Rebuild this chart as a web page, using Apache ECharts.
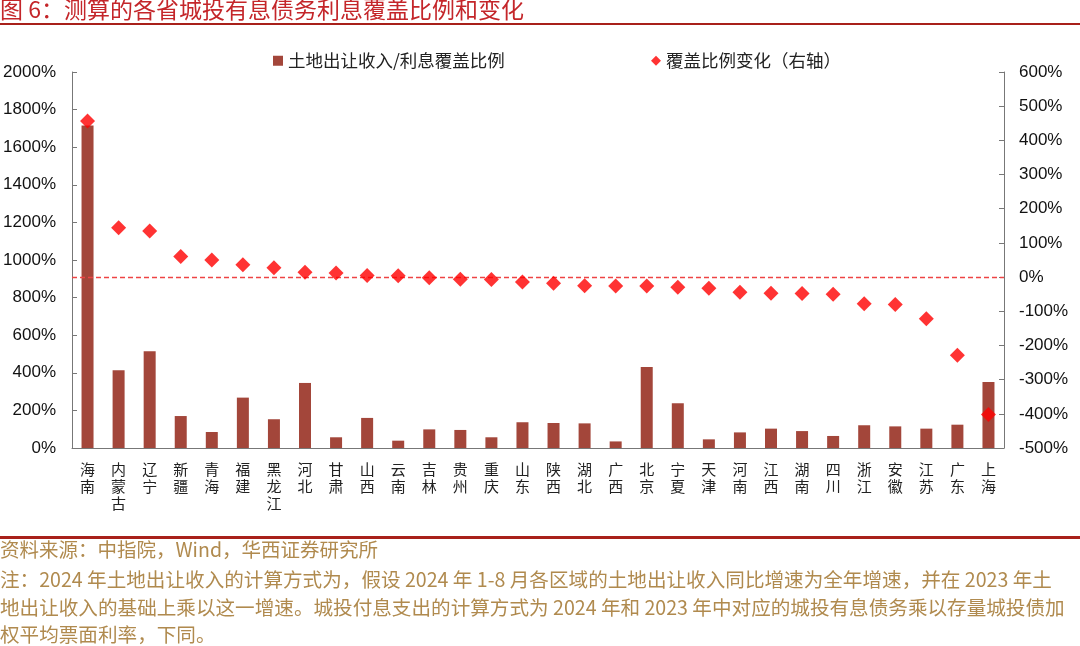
<!DOCTYPE html>
<html>
<head>
<meta charset="utf-8">
<script src="https://cdn.jsdelivr.net/npm/echarts@6/dist/echarts.min.js"></script>
<style>
html,body{margin:0;padding:0;background:#fff;}
#c{width:1080px;height:646px;}
</style>
</head>
<body>
<div id="c"></div>
<script>
const categories = ['海南','内蒙古','辽宁','新疆','青海','福建','黑龙江','河北','甘肃','山西','云南','吉林','贵州','重庆','山东','陕西','湖北','广西','北京','宁夏','天津','河南','江西','湖南','四川','浙江','安徽','江苏','广东','上海'];
const coverageRatio = [1715,414,515,170,85,268,153,346,57,160,39,99,96,57,137,133,131,35,431,238,46,83,103,90,64,121,115,103,124,351];
const coverageChange = [457,144,135,60,50,36,27,14,12,5,4,-2,-6,-7,-14,-18,-25,-26,-26,-30,-33,-44,-47,-48,-50,-78,-80,-122,-229,-402];
const leftTicks = {min:0, max:2000, interval:200};
const rightTicks = {min:-500, max:600, interval:100};
const seriesNames = ['土地出让收入/利息覆盖比例','覆盖比例变化（右轴）'];
const titleText = '图 6：测算的各省城投有息债务利息覆盖比例和变化';
const sourceText = '资料来源：中指院，Wind，华西证券研究所';
const noteLines = [
  '注：2024 年土地出让收入的计算方式为，假设 2024 年 1-8 月各区域的土地出让收入同比增速为全年增速，并在 2023 年土',
  '地出让收入的基础上乘以这一增速。城投付息支出的计算方式为 2024 年和 2023 年中对应的城投有息债务乘以存量城投债加',
  '权平均票面利率，下同。'
];

const cjk = '"Noto Sans CJK SC", "Noto Sans", sans-serif';
const num = '"Liberation Sans", Arial, "Noto Sans CJK SC", sans-serif';
const footColor = '#B08A4E';
const pct = v => v + '%';

const chart = echarts.init(document.getElementById('c'), null, {renderer:'canvas'});
const graphics = [
  {type:'text', left:0, top:-2, style:{text:titleText, font:'23px ' + cjk, fill:'#C4262A'}},
  {type:'rect', shape:{x:0, y:23, width:1080, height:2}, style:{fill:'#A8201A'}},
  {type:'rect', shape:{x:0, y:536, width:1080, height:3}, style:{fill:'#A8201A'}},
  {type:'text', left:0, top:540, style:{text:sourceText, font:'19.5px ' + cjk, fill:footColor}}
];
noteLines.forEach((t,i)=>{
  graphics.push({type:'text', left:0, top:570 + i*27.5, style:{text:t, font:'19.6px ' + cjk, fill:footColor}});
});

chart.setOption({
  animation:false,
  backgroundColor:'#fff',
  textStyle:{fontFamily:cjk},
  grid:{left:72, right:76, top:72, bottom:198, containLabel:false},
  legend:[
    {left:268, top:47, itemWidth:10, itemHeight:10, itemGap:6, icon:'rect',
     data:[{name:seriesNames[0]}], textStyle:{fontSize:17.5, color:'#222', fontFamily:cjk}},
    {left:646, top:47, itemWidth:10, itemHeight:10, icon:'diamond',
     data:[{name:seriesNames[1]}], textStyle:{fontSize:17.5, color:'#222', fontFamily:cjk}}
  ],
  xAxis:{
    type:'category', data:categories, boundaryGap:true,
    axisLine:{lineStyle:{color:'#777', width:1}},
    axisTick:{inside:true, length:4, lineStyle:{color:'#777'}},
    axisLabel:{interval:0, margin:13, fontSize:15, lineHeight:17, color:'#222', fontFamily:cjk,
      verticalAlign:'top',
      formatter:v=>v.split('').join('\n')}
  },
  yAxis:[
    {type:'value', min:leftTicks.min, max:leftTicks.max, interval:leftTicks.interval, position:'left',
     splitLine:{show:false},
     axisLine:{show:true, lineStyle:{color:'#777'}},
     axisTick:{show:true, inside:true, length:5, lineStyle:{color:'#777'}},
     axisLabel:{formatter:pct, fontSize:17, color:'#111', margin:16, fontFamily:num}},
    {type:'value', min:rightTicks.min, max:rightTicks.max, interval:rightTicks.interval, position:'right',
     splitLine:{show:false},
     axisLine:{show:true, lineStyle:{color:'#777'}},
     axisTick:{show:true, inside:true, length:5, lineStyle:{color:'#777'}},
     axisLabel:{formatter:pct, fontSize:17, color:'#111', margin:15, fontFamily:num}}
  ],
  series:[
    {name:seriesNames[0], type:'bar', yAxisIndex:0, data:coverageRatio, barWidth:12,
     itemStyle:{color:'#A3463A'}, z:2},
    {name:seriesNames[1], type:'scatter', yAxisIndex:1, data:coverageChange,
     symbol:'diamond', symbolSize:[15,15], itemStyle:{color:'#FF0000'}, z:5,
     markLine:{silent:true, symbol:'none', animation:false, z:4,
       label:{show:false},
       emphasis:{disabled:true},
       lineStyle:{color:'#EE4444', type:[5,3], width:1.3, opacity:1},
       data:[{yAxis:0}]}}
  ],
  graphic:graphics
});
</script>
</body>
</html>
